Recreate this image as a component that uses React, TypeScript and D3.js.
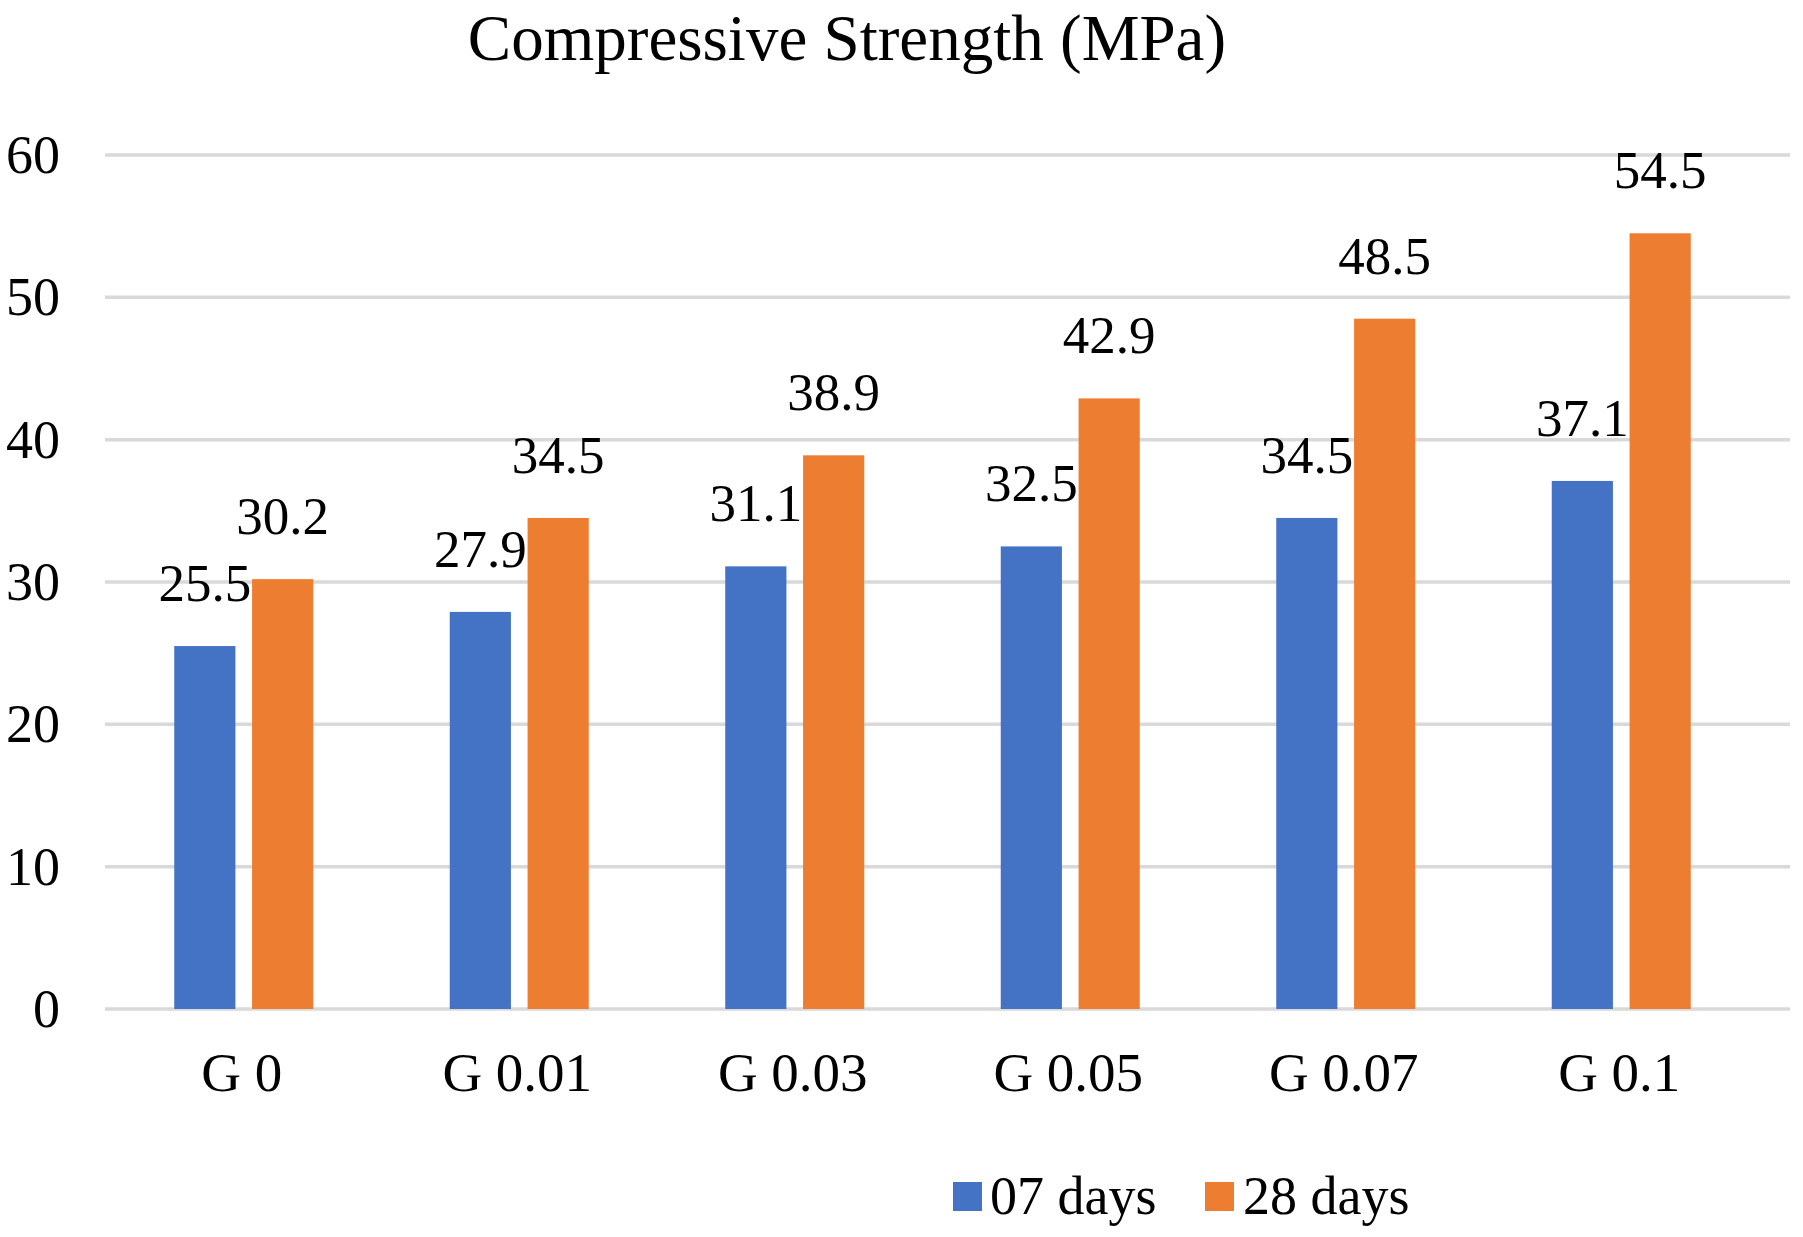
import React from "react";
import * as d3 from "d3";

const categories = ["G 0", "G 0.01", "G 0.03", "G 0.05", "G 0.07", "G 0.1"];
const seriesNames = ["07 days", "28 days"];
const days07 = [25.5, 27.9, 31.1, 32.5, 34.5, 37.1];
const days28 = [30.2, 34.5, 38.9, 42.9, 48.5, 54.5];
const yTicks = [0, 10, 20, 30, 40, 50, 60];
const colors = ["#4472C4", "#ED7D31"];
const title = "Compressive Strength (MPa)";

const W = 1803;
const H = 1237;
const FONT = "'Liberation Serif', 'Times New Roman', serif";

export default function App() {
  const series = [days07, days28];
  const y = d3.scaleLinear().domain([0, 60]).range([1009, 155]);
  const x0 = d3.scaleBand<string>().domain(categories).range([106, 1759]).padding(0);
  const groupW = 139;
  const x1 = d3
    .scaleBand<string>()
    .domain(seriesNames)
    .range([0, groupW])
    .paddingInner(0.214)
    .paddingOuter(0);
  const gridX1 = 105;
  const gridX2 = 1790;

  return (
    <svg
      width={W}
      height={H}
      viewBox={`0 0 ${W} ${H}`}
      style={{ position: "absolute", left: 0, top: 0, background: "#fff" }}
      fontFamily={FONT}
    >
      <rect x={0} y={0} width={W} height={H} fill="#fff" />
      <text x={847} y={60} fontSize={65} textAnchor="middle" fill="#000">
        {title}
      </text>
      {yTicks.map((t) => (
        <g key={t}>
          <line x1={gridX1} x2={gridX2} y1={y(t)} y2={y(t)} stroke="#D9D9D9" strokeWidth={3.5} />
          <text x={60} y={y(t) + 18} fontSize={54} textAnchor="end" fill="#000">
            {t}
          </text>
        </g>
      ))}
      {categories.map((c, i) => {
        const gx = (x0(c) as number) + x0.bandwidth() / 2 - groupW / 2;
        return (
          <g key={c}>
            {seriesNames.map((s, si) => {
              const v = series[si][i];
              const bx = gx + (x1(s) as number);
              const bw = x1.bandwidth();
              return (
                <g key={s}>
                  <rect x={bx} y={y(v)} width={bw} height={y(0) - y(v)} fill={colors[si]} />
                  <text x={bx + bw / 2} y={y(v) - 45} fontSize={53} textAnchor="middle" fill="#000">
                    {v.toFixed(1)}
                  </text>
                </g>
              );
            })}
            <text
              x={(x0(c) as number) + x0.bandwidth() / 2 - 2}
              y={1091}
              fontSize={55}
              textAnchor="middle"
              fill="#000"
            >
              {c}
            </text>
          </g>
        );
      })}
      <g>
        <rect x={953} y={1182} width={29} height={29} fill={colors[0]} />
        <text x={990} y={1214} fontSize={54} fill="#000">
          {seriesNames[0]}
        </text>
        <rect x={1205} y={1182} width={29} height={29} fill={colors[1]} />
        <text x={1243} y={1214} fontSize={54} fill="#000">
          {seriesNames[1]}
        </text>
      </g>
    </svg>
  );
}
